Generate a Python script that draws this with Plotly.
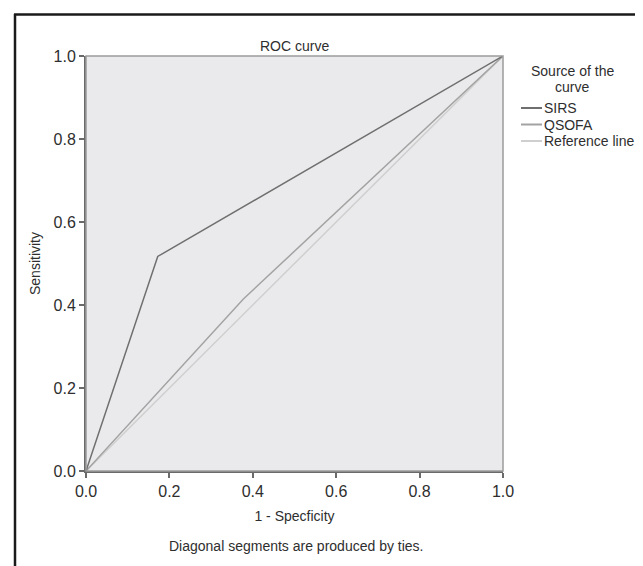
import plotly.graph_objects as go

# Data
series_names = ["SIRS", "QSOFA", "Reference line"]
sirs_fpr = [0.0, 0.172, 1.0]
sirs_tpr = [0.0, 0.517, 1.0]
qsofa_fpr = [0.0, 0.378, 1.0]
qsofa_tpr = [0.0, 0.415, 1.0]
ref_fpr = [0.0, 1.0]
ref_tpr = [0.0, 1.0]
tick_vals = [0.0, 0.2, 0.4, 0.6, 0.8, 1.0]
tick_text = ["0.0", "0.2", "0.4", "0.6", "0.8", "1.0"]
legend_title_lines = ["Source of the", "curve"]

colors = ["#6f6f6f", "#a3a3a3", "#cfcfcf"]
FONT = "Liberation Sans, Arial, sans-serif"
TXT = "#2e2e2e"

W, H = 643, 566
L, R, T, B = 78, 148, 48, 103

fig = go.Figure()
fig.add_trace(go.Scatter(x=ref_fpr, y=ref_tpr, mode="lines", name=series_names[2],
                         line=dict(color=colors[2], width=1.5), showlegend=False))
fig.add_trace(go.Scatter(x=qsofa_fpr, y=qsofa_tpr, mode="lines", name=series_names[1],
                         line=dict(color=colors[1], width=1.5), showlegend=False))
fig.add_trace(go.Scatter(x=sirs_fpr, y=sirs_tpr, mode="lines", name=series_names[0],
                         line=dict(color=colors[0], width=1.5), showlegend=False))

axis_common = dict(range=[0, 1], tickvals=tick_vals, ticktext=tick_text,
                   showgrid=False, zeroline=False, showline=True,
                   linecolor="#6a6a6a", linewidth=2, ticks="outside",
                   ticklen=5, tickwidth=1.5, tickcolor="#6a6a6a",
                   tickfont=dict(family=FONT, size=16, color=TXT))

fig.update_xaxes(**axis_common,
                 title=dict(text="1 - Specficity", font=dict(family=FONT, size=14, color=TXT),
                            standoff=12))
fig.update_yaxes(**axis_common,
                 title=dict(text="Sensitivity", font=dict(family=FONT, size=14, color=TXT),
                            standoff=10))

pw = W - L - R
ph = H - T - B
def px(xp):
    return (xp - L) / pw
def py(yp):
    return (H - B - yp) / ph

shapes = []
# plot border (top and right lighter)
shapes.append(dict(type="rect", xref="paper", yref="paper", x0=0, x1=1, y0=0, y1=1,
                   line=dict(color="#9c9c9c", width=1.5), layer="above"))
# outer frame (left and top)
shapes.append(dict(type="line", xref="paper", yref="paper", x0=px(7), x1=px(7), y0=py(6), y1=py(570),
                   line=dict(color="#1a1a1a", width=2.5)))
shapes.append(dict(type="line", xref="paper", yref="paper", x0=px(6), x1=px(650), y0=py(6.5), y1=py(6.5),
                   line=dict(color="#1a1a1a", width=2.5)))

annotations = []
annotations.append(dict(text="ROC curve", xref="paper", yref="paper", x=0.5, y=py(38),
                        showarrow=False, font=dict(family=FONT, size=14, color=TXT),
                        xanchor="center", yanchor="middle"))
annotations.append(dict(text="Diagonal segments are produced by ties.", xref="paper", yref="paper",
                        x=px(288), y=py(538), showarrow=False,
                        font=dict(family=FONT, size=14, color=TXT),
                        xanchor="center", yanchor="middle"))
# legend title
for line_text, ly in zip(legend_title_lines, [63, 79]):
    annotations.append(dict(text=line_text, xref="paper", yref="paper",
                            x=px(564), y=py(ly), showarrow=False,
                            font=dict(family=FONT, size=14, color=TXT),
                            xanchor="center", yanchor="middle"))
legend_y = [100, 116.5, 133]
for name, col, ly in zip(series_names, colors, legend_y):
    shapes.append(dict(type="line", xref="paper", yref="paper", x0=px(513), x1=px(534),
                       y0=py(ly), y1=py(ly), line=dict(color=col, width=2)))
    annotations.append(dict(text=name, xref="paper", yref="paper", x=px(534), y=py(ly),
                            showarrow=False, font=dict(family=FONT, size=14, color=TXT),
                            xanchor="left", yanchor="middle"))

fig.update_layout(width=W, height=H, margin=dict(l=L, r=R, t=T, b=B, autoexpand=False),
                  paper_bgcolor="white", plot_bgcolor="#eaeaec",
                  shapes=shapes, annotations=annotations, showlegend=False)

fig.write_html("out.html")
